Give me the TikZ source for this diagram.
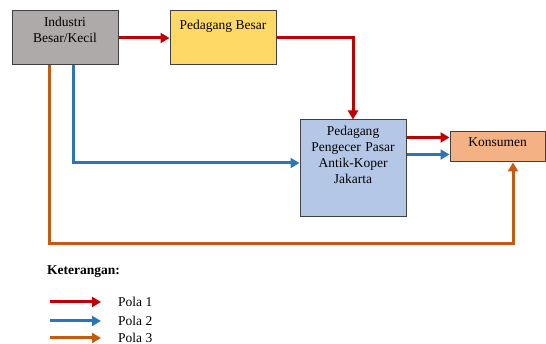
\documentclass[tikz,border=0pt]{standalone}
\usepackage{fontspec}
\setmainfont{Liberation Serif}
\usepackage{tikz}
\usetikzlibrary{arrows.meta, calc, positioning}
\definecolor{abuabu}{HTML}{AEAAAA}
\definecolor{kuning}{HTML}{FFD966}
\definecolor{birumuda}{HTML}{B4C7E7}
\definecolor{oranye}{HTML}{F4B183}
\definecolor{merah}{HTML}{C00000}
\definecolor{biru}{HTML}{2E75B6}
\definecolor{coklat}{HTML}{C55A11}

\begin{document}
\begin{tikzpicture}[x=1pt, y=-1pt, font=\fontsize{13.5}{16}\selectfont]
        \tikzstyle{box}=[draw=black!75, line width=1pt, inner sep=0pt]
        \tikzstyle{lbl}=[align=center, inner sep=0pt, anchor=north]
        \tikzstyle{pola}=[line width=3pt, -{Triangle[length=9pt, width=10pt]}]
        \tikzstyle{pola1}=[pola, merah]
        \tikzstyle{pola2}=[pola, biru]
        \tikzstyle{pola3}=[pola, coklat]

        \useasboundingbox (0,0) rectangle (546,344);

        % Boxes
        \node (industri)[box, fill=abuabu, minimum width=106, minimum height=54] at (65,38) {};
        \node (besar)[box, fill=kuning, minimum width=106, minimum height=54] at (223,38) {};
        \node (pengecer)[box, fill=birumuda, minimum width=106, minimum height=97] at (353,168.5) {};
        \node (konsumen)[box, fill=oranye, minimum width=95, minimum height=30] at (497.5,147) {};

        % Texts at the top of each box
        \node (t_industri)[lbl] at ($(industri.north)+(0,6)$) {Industri\\Besar/Kecil};
        \node (t_besar)[lbl] at ($(besar.north)+(0,9)$) {Pedagang Besar};
        \node (t_pengecer)[lbl, text width=106] at ($(pengecer.north)+(0,6)$)
            {Pedagang\\Pengecer Pasar\\Antik-Koper\\Jakarta};
        \node (t_konsumen)[lbl] at ($(konsumen.north)+(0,6)$) {Konsumen};

        % Pola 1
        \draw[pola1] (industri.east) -- (besar.west);
        \draw[pola1] (besar.east) -| (pengecer.north);
        \coordinate (p1) at ($(pengecer.north east)+(0,18)$);
        \draw[pola1] (p1) -- (p1 -| konsumen.west);

        % Pola 2
        \coordinate (p2) at ($(pengecer.north east)+(0,35)$);
        \draw[pola2] (p2) -- (p2 -| konsumen.west);
        \coordinate (b1) at ($(industri.south)+(8,0)$);
        \coordinate (b2) at ($(pengecer.west)+(0,-5.5)$);
        \draw[pola2] (b1) |- (b2);

        % Pola 3
        \coordinate (c1) at ($(industri.south)+(-16,0)$);
        \coordinate (c2) at ($(konsumen.south)+(15.5,0)$);
        \coordinate (bawah) at (0,244);
        \draw[pola3] (c1) -- (c1 |- bawah) -| (c2);

        % Keterangan
        \node (ket)[inner sep=0pt, anchor=base west, font=\fontsize{13.5}{16}\selectfont\bfseries] at (47,275) {Keterangan:};
        \foreach \i/\y in {1/302, 2/321, 3/338} {
            \coordinate (ka\i) at (50,\y);
            \coordinate (kb\i) at (101,\y);
            \draw[pola\i] (ka\i) -- (kb\i);
            \node (pola\i)[inner sep=0pt, anchor=west] at ($(kb\i)+(17,0)$) {Pola \i};
        }
    \end{tikzpicture}
\end{document}
